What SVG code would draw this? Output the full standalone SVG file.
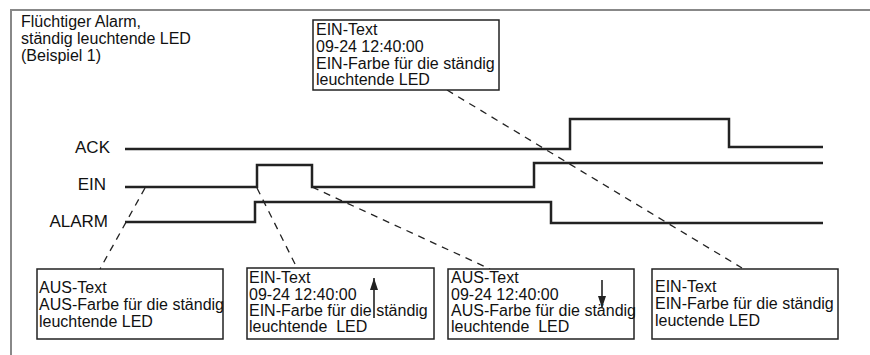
<svg xmlns="http://www.w3.org/2000/svg" width="870" height="355" viewBox="0 0 870 355">
<defs>
<style>
text{font-family:"Liberation Sans",Arial,sans-serif;font-size:16px;fill:#111}
.lbl{font-size:17px}
.sig{fill:none;stroke:#222;stroke-width:2.5}
.box{fill:#fff;stroke:#222;stroke-width:1.5}
.dash{fill:none;stroke:#222;stroke-width:1.3;stroke-dasharray:7 6}
.frame{fill:none;stroke:#888;stroke-width:2}
.arr{stroke:#222;stroke-width:1.6}
</style>
<marker id="ah" markerWidth="12" markerHeight="9" refX="0" refY="0" orient="auto" markerUnits="userSpaceOnUse" viewBox="-12 -4.5 12 9">
<path d="M0,0 L-12,-4 L-12,4 Z" fill="#222"/>
</marker>
</defs>
<path class="frame" d="M11,355 V10 H870"/>
<g id="title">
<text x="21" y="27">Flüchtiger Alarm,</text>
<text x="21" y="44">ständig leuchtende LED</text>
<text x="21" y="61">(Beispiel 1)</text>
</g>
<g id="signals">
<text class="lbl" x="110" y="153" text-anchor="end">ACK</text>
<text class="lbl" x="106" y="190" text-anchor="end">EIN</text>
<text class="lbl" x="108" y="227" text-anchor="end">ALARM</text>
<path class="sig" d="M125,149 H570 V119 H729 V147 H823"/>
<path class="sig" d="M125,187 H257 V165 H312 V187 H534 V163 H823"/>
<path class="sig" d="M125,222 H255 V202 H551 V223 H823"/>
</g>
<g id="connectors">
<path class="dash" d="M447,90 L742,268"/>
<path class="dash" d="M145,188 L100,269"/>
<path class="dash" d="M257,188 L297,268"/>
<path class="dash" d="M312,187 L490,269"/>
</g>
<g id="box-top">
<rect class="box" x="313" y="20" width="186" height="70"/>
<text x="316" y="35">EIN-Text</text>
<text x="316" y="52">09-24 12:40:00</text>
<text x="316" y="69">EIN-Farbe für die ständig</text>
<text x="316" y="85">leuchtende LED</text>
</g>
<g id="box1">
<rect class="box" x="37" y="269" width="186" height="70"/>
<text x="39" y="293">AUS-Text</text>
<text x="39" y="310">AUS-Farbe für die ständig</text>
<text x="39" y="327">leuchtende LED</text>
</g>
<g id="box2">
<rect class="box" x="247" y="268" width="187" height="71"/>
<text x="249" y="283">EIN-Text</text>
<text x="249" y="300">09-24 12:40:00</text>
<text x="249" y="316">EIN-Farbe für die ständig</text>
<text x="249" y="332" xml:space="preserve">leuchtende  LED</text>
<line class="arr" x1="374" y1="318" x2="374" y2="278" marker-end="url(#ah)"/>
</g>
<g id="box3">
<rect class="box" x="448" y="269" width="186" height="70"/>
<text x="451" y="283">AUS-Text</text>
<text x="451" y="300">09-24 12:40:00</text>
<text x="451" y="316">AUS-Farbe für die ständig</text>
<text x="451" y="332" xml:space="preserve">leuchtende  LED</text>
<line class="arr" x1="602" y1="280" x2="602" y2="308" marker-end="url(#ah)"/>
</g>
<g id="box4">
<rect class="box" x="652" y="269" width="186" height="70"/>
<text x="655" y="292">EIN-Text</text>
<text x="655" y="309">EIN-Farbe für die ständig</text>
<text x="655" y="326">leuctende LED</text>
</g>
</svg>
